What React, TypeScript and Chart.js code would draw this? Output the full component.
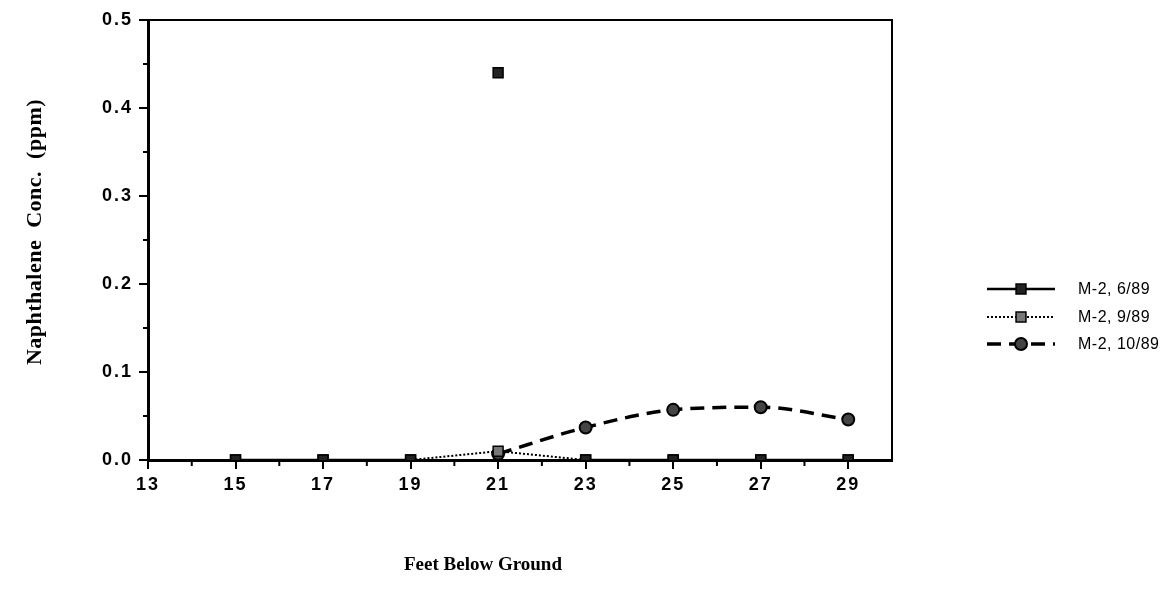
import React, { useEffect, useRef } from 'react';
import { Chart, registerables } from 'chart.js';
import { drawPoint } from 'chart.js/helpers';

Chart.register(...registerables);

// ---- Data ----
const depths = [15, 17, 19, 21, 23, 25, 27, 29];
const seriesNames = ['M-2, 6/89', 'M-2, 9/89', 'M-2, 10/89'];
const conc_6_89 = [0, 0, 0, 0.44, 0, 0, 0, 0];
const conc_9_89 = [0, 0, 0, 0.01, 0, 0, 0, 0];
const conc_10_89 = [null, null, null, 0.007, 0.037, 0.057, 0.06, 0.046];
const xTickValues = [13, 15, 17, 19, 21, 23, 25, 27, 29];
const xMinorTicks = [14, 16, 18, 20, 22, 24, 26, 28];
const yTickValues = [0, 0.1, 0.2, 0.3, 0.4, 0.5];
const yMinorTicks = [0.05, 0.15, 0.25, 0.35, 0.45];
const xTitle = 'Feet Below Ground';
const yTitle = 'Naphthalene  Conc.  (ppm)';

const toPoints = (vals: (number | null)[]) => depths.map((d, i) => ({ x: d, y: vals[i] }));

const SERIF = '"Liberation Serif", "Times New Roman", serif';
const SANS = '"Liberation Sans", Arial, sans-serif';

const framePlugin = {
  id: 'frameAndMinor',
  beforeDraw(chart: any) {
    (chart.ctx as any).letterSpacing = '2px';
  },
  afterDraw(chart: any) {
    const { ctx, chartArea, scales } = chart;
    ctx.save();
    ctx.strokeStyle = '#000';
    ctx.lineWidth = 2;
    ctx.beginPath();
    ctx.moveTo(chartArea.left, chartArea.top);
    ctx.lineTo(chartArea.right, chartArea.top);
    ctx.lineTo(chartArea.right, chartArea.bottom);
    ctx.stroke();
    // minor ticks
    ctx.beginPath();
    yMinorTicks.forEach((v) => {
      const y = scales.y.getPixelForValue(v);
      ctx.moveTo(chartArea.left - 5, y);
      ctx.lineTo(chartArea.left, y);
    });
    xMinorTicks.forEach((v) => {
      const x = scales.x.getPixelForValue(v);
      ctx.moveTo(x, chartArea.bottom);
      ctx.lineTo(x, chartArea.bottom + 6);
    });
    ctx.stroke();

    // axis titles
    ctx.fillStyle = '#000';
    ctx.textAlign = 'center';
    ctx.textBaseline = 'middle';
    (ctx as any).letterSpacing = '0px';
    ctx.font = `bold 19px ${SERIF}`;
    ctx.fillText(xTitle, 483, 565);
    ctx.save();
    ctx.translate(35, 232);
    ctx.rotate(-Math.PI / 2);
    (ctx as any).letterSpacing = '0.5px';
    ctx.font = `bold 22px ${SERIF}`;
    ctx.fillText(yTitle, 0, 0);
    ctx.restore();
    ctx.restore();
  },
};

const legendPlugin = {
  id: 'sideLegend',
  afterDraw(chart: any) {
    const ctx = chart.ctx;
    const x0 = 987, x1 = 1055, mx = 1021, tx = 1078;
    const rows = [289, 317, 344];
    chart.data.datasets.forEach((ds: any, i: number) => {
      const y = rows[i];
      ctx.save();
      ctx.strokeStyle = '#000';
      ctx.lineWidth = ds.borderWidth;
      ctx.setLineDash(ds.borderDash || []);
      ctx.beginPath();
      ctx.moveTo(x0, y);
      ctx.lineTo(x1, y);
      ctx.stroke();
      ctx.setLineDash([]);
      ctx.fillStyle = ds.pointBackgroundColor;
      ctx.strokeStyle = ds.pointBorderColor;
      ctx.lineWidth = ds.pointBorderWidth;
      drawPoint(ctx, { pointStyle: ds.pointStyle, radius: ds.pointRadius, rotation: 0, borderWidth: ds.pointBorderWidth }, mx, y);
      ctx.fillStyle = '#000';
      (ctx as any).letterSpacing = '0.5px';
      ctx.font = `16px ${SANS}`;
      ctx.textAlign = 'left';
      ctx.textBaseline = 'middle';
      ctx.fillText(ds.label, tx, y + 1);
      ctx.restore();
    });
  },
};

export default function App() {
  const ref = useRef<HTMLCanvasElement | null>(null);
  useEffect(() => {
    if (!ref.current) return;
    const chart = new Chart(ref.current, {
      type: 'line',
      data: {
        datasets: [
          {
            label: seriesNames[0],
            data: toPoints(conc_6_89),
            borderColor: '#000',
            borderWidth: 2.5,
            pointStyle: 'rect',
            pointRadius: 7,
            pointBackgroundColor: '#222',
            pointBorderColor: '#000',
            pointBorderWidth: 1.5,
            tension: 0,
            segment: {
              borderColor: (c: any) => (c.p0DataIndex === 3 || c.p1DataIndex === 3 ? 'rgba(0,0,0,0)' : '#000'),
            },
          },
          {
            label: seriesNames[1],
            data: toPoints(conc_9_89),
            borderColor: '#000',
            borderWidth: 2,
            borderDash: [2, 2],
            pointStyle: 'rect',
            pointRadius: 7,
            pointBackgroundColor: '#777',
            pointBorderColor: '#000',
            pointBorderWidth: 1.5,
            tension: 0,
          },
          {
            label: seriesNames[2],
            data: toPoints(conc_10_89),
            borderColor: '#000',
            borderWidth: 3.5,
            borderDash: [14, 8],
            pointStyle: 'circle',
            pointRadius: 6,
            pointBackgroundColor: '#444',
            pointBorderColor: '#000',
            pointBorderWidth: 2,
            cubicInterpolationMode: 'monotone',
          },
        ],
      } as any,
      options: {
        animation: false,
        responsive: false,
        devicePixelRatio: 1,
        layout: { padding: { left: 0, top: 20, right: 280, bottom: 0 } },
        plugins: { legend: { display: false }, tooltip: { enabled: false } },
        scales: {
          x: {
            type: 'linear',
            min: 13,
            max: 30,
            afterBuildTicks: (s: any) => {
              s.ticks = xTickValues.map((v) => ({ value: v }));
            },
            afterFit: (s: any) => {
              s.height = 138;
            },
            ticks: {
              color: '#000',
              padding: 5,
              font: { family: SANS, size: 18, weight: 'bold' },
              callback: (v: any) => String(v),
              maxRotation: 0,
            },
            grid: { drawOnChartArea: false, drawTicks: true, tickLength: 9, color: '#000', lineWidth: 2 },
            border: { display: true, color: '#000', width: 3 },
            title: { display: false },
          },
          y: {
            type: 'linear',
            min: 0,
            max: 0.5,
            afterBuildTicks: (s: any) => {
              s.ticks = yTickValues.map((v) => ({ value: v }));
            },
            afterFit: (s: any) => {
              s.width = 148;
            },
            ticks: {
              color: '#000',
              padding: 6,
              font: { family: SANS, size: 18, weight: 'bold' },
              callback: (v: any) => Number(v).toFixed(1),
            },
            grid: { drawOnChartArea: false, drawTicks: true, tickLength: 9, color: '#000', lineWidth: 2 },
            border: { display: true, color: '#000', width: 3 },
            title: { display: false },
          },
        },
      } as any,
      plugins: [framePlugin, legendPlugin],
    });
    return () => chart.destroy();
  }, []);
  return (
    <div style={{ position: 'fixed', left: 0, top: 0, width: 1172, height: 598, background: '#fff' }}>
      <canvas ref={ref} width={1172} height={598} style={{ width: 1172, height: 598 }} />
    </div>
  );
}
